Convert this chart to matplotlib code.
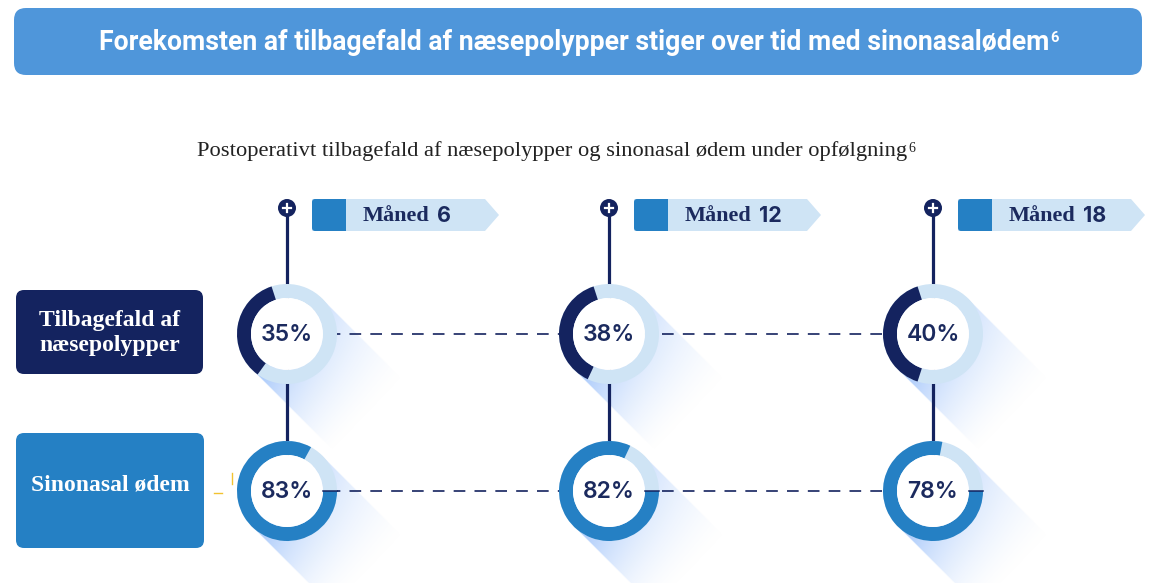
import numpy as np
import matplotlib
matplotlib.use("Agg")
import matplotlib.pyplot as plt
from matplotlib.patches import FancyBboxPatch, Wedge, Circle, Polygon, Rectangle

# data
months = ["6", "12", "18"]
row_labels = ["Tilbagefald af\nnæsepolypper", "Sinonasal ødem"]
recurrence = [35, 38, 40]
edema = [83, 82, 78]
title = "Forekomsten af tilbagefald af næsepolypper stiger over tid med sinonasalødem"
subtitle = "Postoperativt tilbagefald af næsepolypper og sinonasal ødem under opfølgning"
ref_mark = "6"

NAVY = "#14235f"
BLUE = "#2580c4"
LIGHT = "#cfe4f5"
TITLE_BG = "#4f96da"
SHADOW = np.array([0.52, 0.70, 0.98])

W, H = 1152, 583
fig = plt.figure(figsize=(W / 100, H / 100), dpi=100)
ax = fig.add_axes([0, 0, 1, 1])
ax.set_xlim(0, W)
ax.set_ylim(H, 0)
ax.axis("off")

col_x = [287, 609, 933]
row_y = [334, 491]
r_out, r_in = 50, 36

# title banner
ax.add_patch(FancyBboxPatch((26, 20), 1104, 43, boxstyle="round,pad=12,rounding_size=12",
                            fc=TITLE_BG, ec="none", zorder=1))
t = ax.text(574, 43, title, color="white", fontsize=19.2, fontweight="bold",
            family="Roboto", ha="center", va="center", zorder=5)

# subtitle
st = ax.text(197, 151, subtitle, color="#222222", fontsize=16.2, family="Liberation Serif",
             ha="left", va="center", zorder=5)

fig.canvas.draw()
rend = fig.canvas.get_renderer()
inv = ax.transData.inverted()


def right_edge(txt):
    bb = txt.get_window_extent(rend)
    return inv.transform((bb.x1, bb.y1))


x1, y1 = right_edge(t)
ax.text(x1 + 1, y1 + 1, ref_mark, color="white", fontsize=10.5, fontweight="bold",
        family="Roboto", ha="left", va="top", zorder=5)
x1, y1 = right_edge(st)
ax.text(x1 + 1, y1 + 1, ref_mark, color="#222222", fontsize=10, family="Liberation Serif",
        ha="left", va="top", zorder=5)


def shadow(cx, cy, r, L=118):
    x0, x1 = cx - r, cx + r + L
    y0, y1 = cy - r, cy + r + L
    xs = np.arange(x0, x1 + 1)
    ys = np.arange(y0, y1 + 1)
    X, Y = np.meshgrid(xs, ys)
    tt = ((X - cx) + (Y - cy)) / np.sqrt(2)
    ss = ((X - cx) - (Y - cy)) / np.sqrt(2)
    inside = (np.abs(ss) <= r) & (tt >= 0) & (tt <= L)
    a = np.clip(1 - tt / L, 0, 1) ** 1.6 * (0.5 + 0.5 * (r - ss) / (2 * r)) * 0.8
    a = np.where(inside, a, 0)
    img = np.zeros(X.shape + (4,))
    img[..., :3] = SHADOW
    img[..., 3] = a
    ax.imshow(img, extent=(x0, x1, y1, y0), origin="upper", interpolation="bilinear",
              zorder=1, aspect="auto")


for cx in col_x:
    for cy in row_y:
        shadow(cx, cy, r_out)

# connecting lines
for cx in col_x:
    ax.plot([cx, cx], [208, row_y[1]], color=NAVY, lw=2.3, zorder=2, solid_capstyle="butt")
for cy in row_y:
    ax.plot([col_x[0], col_x[-1]], [cy, cy], color=NAVY, lw=1.2,
            linestyle=(0, (7, 5.5)), zorder=2)

# donuts
for i, cx in enumerate(col_x):
    for j, (cy, vals) in enumerate(zip(row_y, [recurrence, edema])):
        p = vals[i] / 100
        ax.add_patch(Wedge((cx, cy), r_out, 0, 360, width=r_out - r_in, fc=LIGHT, ec="none", zorder=3))
        if j == 0:
            a1, a2 = -(108 + p * 360), -108
            col = NAVY
        else:
            a1, a2 = 0, p * 360
            col = BLUE
        ax.add_patch(Wedge((cx, cy), r_out, a1, a2, width=r_out - r_in, fc=col, ec="none", zorder=3.1))
        ax.add_patch(Circle((cx, cy), r_in, fc="white", ec="none", zorder=3.2))
        if j == 1:
            ax.plot([cx + r_in, cx + r_out], [cy, cy], color=NAVY, lw=1.1, zorder=3.3)
        ax.text(cx, cy + 1, f"{vals[i]}%", color="#1b2a5e", fontsize=16.5, fontweight="semibold",
                family="Inter", ha="center", va="center", zorder=4)

# plus icons and month tags
for cx, m in zip(col_x, months):
    ax.add_patch(Circle((cx, 208), 9, fc=NAVY, ec="none", zorder=4))
    ax.plot([cx - 4, cx + 4], [208, 208], color="white", lw=1.6, zorder=4.1)
    ax.plot([cx, cx], [204, 212], color="white", lw=1.6, zorder=4.1)
    tl = cx + 25
    ax.add_patch(Polygon([(tl, 199), (tl + 173, 199), (tl + 187, 215), (tl + 173, 231), (tl, 231)],
                         closed=True, fc=LIGHT, ec="none", zorder=3))
    ax.add_patch(FancyBboxPatch((tl + 2, 201), 30, 28, boxstyle="round,pad=2,rounding_size=3",
                                fc=BLUE, ec="none", zorder=3.1))
    ax.add_patch(Rectangle((tl + 20, 199), 14, 32, fc=BLUE, ec="none", zorder=3.1))
    mt = ax.text(tl + 51, 216, "Måned", color="#1b2a5e", fontsize=16, fontweight="bold",
                 family="Liberation Serif", ha="left", va="center", zorder=4)
    fig.canvas.draw()
    bb = mt.get_window_extent(rend)
    xe = inv.transform((bb.x1, bb.y1))[0]
    ax.text(xe + 7, 216, m, color="#1b2a5e", fontsize=15.5, fontweight="bold",
            family="Inter", ha="left", va="center", zorder=4)

# row label boxes
boxes = [(16, 290, 187, 84, NAVY), (16, 433, 188, 115, BLUE)]
label_y = [333, 485]
for (bx, by, bw, bh, bc), lab, ly in zip(boxes, row_labels, label_y):
    ax.add_patch(FancyBboxPatch((bx + 8, by + 8), bw - 16, bh - 16,
                                boxstyle="round,pad=8,rounding_size=8", fc=bc, ec="none", zorder=3))
    ax.text(bx + bw / 2, ly, lab, color="white", fontsize=17, fontweight="bold",
            family="Liberation Serif", ha="center", va="center", linespacing=1.2, zorder=4)

# small yellow marks
ax.plot([214, 222], [493, 493], color="#f2c230", lw=1, zorder=2)
ax.plot([232, 232], [473, 484], color="#f2c230", lw=1, zorder=2)

fig.savefig("out.png", dpi=100)
